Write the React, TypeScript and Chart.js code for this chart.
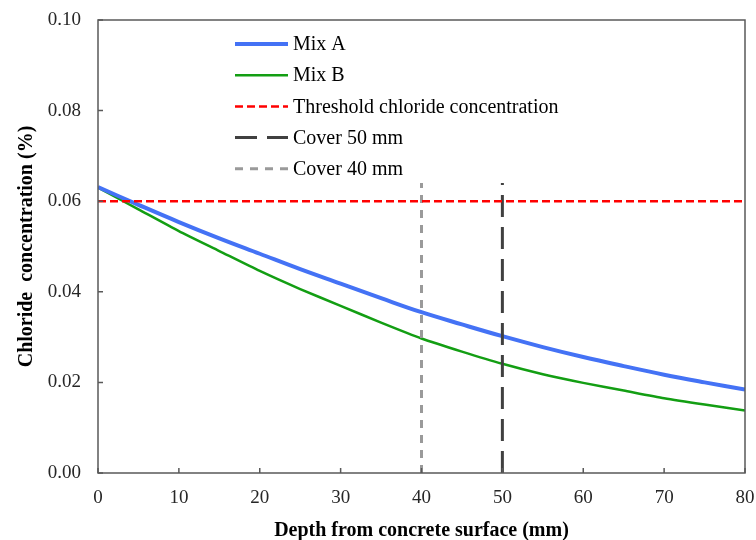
import React, { useEffect, useRef } from 'react';
import { Chart, registerables } from 'chart.js';

Chart.register(...registerables);

const depthMm = [0, 5, 10, 15, 20, 25, 30, 35, 40, 45, 50, 55, 60, 65, 70, 75, 80];
const mixA = [0.0631, 0.0592, 0.0554, 0.0518, 0.0484, 0.045, 0.0418, 0.0386, 0.0355, 0.0328, 0.0302, 0.0278, 0.0256, 0.0236, 0.0217, 0.02, 0.0184];
const mixB = [0.063, 0.0582, 0.0534, 0.049, 0.0446, 0.0406, 0.0369, 0.0332, 0.0297, 0.0268, 0.0241, 0.0218, 0.0199, 0.0182, 0.0165, 0.0151, 0.0138];
const thresholdValue = 0.06;
const thresholdRange = [0, 80];
const cover50 = 50;
const cover40 = 40;
const coverLineRange = [0, 0.064];
const xTicks = [0, 10, 20, 30, 40, 50, 60, 70, 80];
const yTicks = [0, 0.02, 0.04, 0.06, 0.08, 0.1];
const seriesLabels = ['Mix A', 'Mix B', 'Threshold chloride concentration', 'Cover 50 mm', 'Cover 40 mm'];
const xTitle = 'Depth from concrete surface (mm)';
const yTitle = 'Chloride  concentration (%)';

const FONT = '"Liberation Serif", "Times New Roman", serif';
const AXIS_COLOR = '#595959';

const framePlugin = {
  id: 'frame',
  afterDatasetsDraw(chart: any) {
    const { ctx, chartArea, scales } = chart;
    ctx.save();
    ctx.strokeStyle = AXIS_COLOR;
    ctx.lineWidth = 1.5;
    ctx.strokeRect(chartArea.left, chartArea.top, chartArea.right - chartArea.left, chartArea.bottom - chartArea.top);
    ctx.beginPath();
    yTicks.forEach((v) => {
      const y = scales.y.getPixelForValue(v);
      ctx.moveTo(chartArea.left, y);
      ctx.lineTo(chartArea.left + 5, y);
    });
    xTicks.forEach((v) => {
      const x = scales.x.getPixelForValue(v);
      ctx.moveTo(x, chartArea.bottom);
      ctx.lineTo(x, chartArea.bottom - 5);
    });
    ctx.stroke();
    ctx.restore();
  },
};

const legendPlugin = {
  id: 'customLegend',
  afterDraw(chart: any) {
    const { ctx } = chart;
    const byLabel: any = {};
    chart.data.datasets.forEach((d: any) => (byLabel[d.label] = d));
    ctx.save();
    seriesLabels.forEach((label, i) => {
      const ds = byLabel[label];
      const y = 44 + i * 31.2;
      ctx.beginPath();
      ctx.strokeStyle = ds.borderColor;
      ctx.lineWidth = ds.borderWidth;
      ctx.setLineDash(ds.borderDash || []);
      ctx.moveTo(235, y);
      ctx.lineTo(288, y);
      ctx.stroke();
      ctx.setLineDash([]);
      ctx.fillStyle = '#000';
      ctx.font = `20px ${FONT}`;
      ctx.textBaseline = 'middle';
      ctx.textAlign = 'left';
      ctx.fillText(label, 293, y + 1);
    });
    ctx.restore();
  },
};

export default function App() {
  const ref = useRef<HTMLCanvasElement>(null);
  useEffect(() => {
    document.body.style.margin = '0';
    const ctx = ref.current!.getContext('2d')!;
    const chart = new Chart(ctx, {
      type: 'line',
      data: {
        datasets: [
          {
            label: seriesLabels[0],
            data: depthMm.map((x, i) => ({ x, y: mixA[i] })),
            borderColor: '#4472f5',
            borderWidth: 4,
            pointRadius: 0,
            tension: 0.4,
            order: 4,
          },
          {
            label: seriesLabels[1],
            data: depthMm.map((x, i) => ({ x, y: mixB[i] })),
            borderColor: '#139e13',
            borderWidth: 2.5,
            pointRadius: 0,
            tension: 0.2,
            order: 5,
          },
          {
            label: seriesLabels[2],
            data: thresholdRange.map((x) => ({ x, y: thresholdValue })),
            borderColor: '#ff0000',
            borderWidth: 2.5,
            borderDash: [8, 4],
            pointRadius: 0,
            order: 1,
          },
          {
            label: seriesLabels[3],
            data: coverLineRange.map((y) => ({ x: cover50, y })),
            borderColor: '#404040',
            borderWidth: 3,
            borderDash: [22, 10],
            pointRadius: 0,
            order: 2,
          },
          {
            label: seriesLabels[4],
            data: coverLineRange.map((y) => ({ x: cover40, y })),
            borderColor: '#9a9a9a',
            borderWidth: 3,
            borderDash: [8, 7],
            pointRadius: 0,
            order: 3,
          },
        ],
      },
      options: {
        animation: false,
        responsive: false,
        layout: { padding: { left: 0, right: 11, top: 20, bottom: 0 } },
        plugins: { legend: { display: false }, tooltip: { enabled: false } },
        scales: {
          x: {
            type: 'linear',
            min: 0,
            max: 80,
            afterFit: (s: any) => { s.height = 67; s.paddingLeft = 0; s.paddingRight = 0; },
            afterBuildTicks: (s: any) => { s.ticks = xTicks.map((v) => ({ value: v })); },
            grid: { display: false, drawTicks: false },
            border: { display: false },
            ticks: { padding: 14, color: '#262626', font: { family: FONT, size: 19 }, callback: (v: any) => String(v) },
            title: { display: true, text: xTitle, color: '#000', font: { family: FONT, size: 20, weight: 'bold' }, padding: { top: 0, bottom: -3 } },
          },
          y: {
            type: 'linear',
            min: 0,
            max: 0.1,
            afterFit: (s: any) => { s.width = 98; s.paddingTop = 0; s.paddingBottom = 0; },
            afterBuildTicks: (s: any) => { s.ticks = yTicks.map((v) => ({ value: v })); },
            grid: { display: false, drawTicks: false },
            border: { display: false },
            ticks: { padding: 17, color: '#262626', font: { family: FONT, size: 19 }, callback: (v: any) => Number(v).toFixed(2) },
            title: { display: true, text: yTitle, color: '#000', font: { family: FONT, size: 20, weight: 'bold' }, padding: { top: 15, bottom: 0 } },
          },
        },
      },
      plugins: [framePlugin, legendPlugin],
    });
    return () => chart.destroy();
  }, []);
  return <canvas ref={ref} width={756} height={540} style={{ display: 'block' }} />;
}
